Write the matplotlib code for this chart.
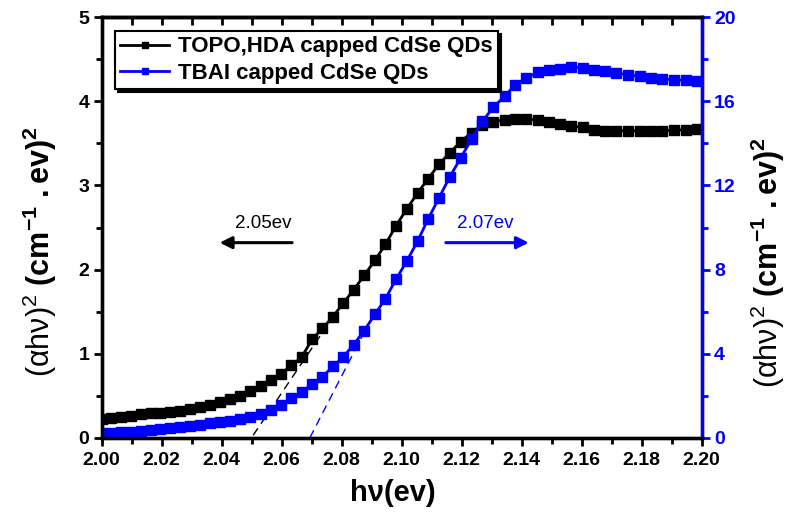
import matplotlib
matplotlib.use("Agg")
import matplotlib.pyplot as plt
from matplotlib.ticker import MultipleLocator

plt.rcParams['font.family'] = ['Liberation Sans', 'DejaVu Sans']
plt.rcParams['mathtext.fontset'] = 'custom'
plt.rcParams['mathtext.rm'] = 'Liberation Sans'
plt.rcParams['mathtext.bf'] = 'Liberation Sans:bold'
plt.rcParams['mathtext.it'] = 'Liberation Sans:italic'

# photon energy (eV), one point per nm of wavelength
energy = [2.0000, 2.0032, 2.0065, 2.0097, 2.0130, 2.0163, 2.0195, 2.0228,
          2.0261, 2.0295, 2.0328, 2.0361, 2.0395, 2.0428, 2.0462, 2.0496,
          2.0530, 2.0564, 2.0598, 2.0632, 2.0667, 2.0701, 2.0736, 2.0771,
          2.0805, 2.0840, 2.0875, 2.0911, 2.0946, 2.0981, 2.1017, 2.1053,
          2.1088, 2.1124, 2.1160, 2.1197, 2.1233, 2.1269, 2.1306, 2.1343,
          2.1379, 2.1416, 2.1453, 2.1490, 2.1528, 2.1565, 2.1603, 2.1640,
          2.1678, 2.1716, 2.1754, 2.1793, 2.1831, 2.1869, 2.1908, 2.1947,
          2.1986]

topo_hda = [0.22, 0.23, 0.25, 0.26, 0.28, 0.29, 0.30, 0.31, 0.32, 0.34,
            0.36, 0.39, 0.42, 0.46, 0.50, 0.56, 0.62, 0.69, 0.76, 0.86,
            0.96, 1.17, 1.30, 1.44, 1.60, 1.76, 1.93, 2.11, 2.30, 2.52,
            2.72, 2.91, 3.08, 3.25, 3.39, 3.52, 3.63, 3.72, 3.76, 3.78,
            3.79, 3.79, 3.78, 3.76, 3.73, 3.71, 3.69, 3.66, 3.65, 3.65,
            3.65, 3.65, 3.65, 3.65, 3.66, 3.66, 3.67]

tbai = [0.24, 0.24, 0.27, 0.29, 0.34, 0.37, 0.40, 0.45, 0.50, 0.56,
        0.61, 0.69, 0.74, 0.82, 0.90, 1.01, 1.14, 1.33, 1.57, 1.90,
        2.16, 2.56, 2.90, 3.40, 3.84, 4.43, 5.10, 5.87, 6.62, 7.53,
        8.40, 9.35, 10.40, 11.40, 12.40, 13.32, 14.20, 15.05, 15.73, 16.24,
        16.80, 17.11, 17.38, 17.51, 17.56, 17.64, 17.59, 17.51, 17.43, 17.35,
        17.27, 17.19, 17.11, 17.06, 17.03, 17.00, 16.98]

# linear fits to the absorption edge
fit_black_x = [2.0505, 2.0745]
fit_black_y = [0.03, 1.30]
fit_blue_x = [2.0694, 2.0878]
fit_blue_y = [0.0, 5.1]

blue = (0, 0, 1)

fig = plt.figure(figsize=(7.9, 5.15), dpi=100)
ax = fig.add_axes([0.1287, 0.15, 0.7595, 0.8164])
ax2 = ax.twinx()

l1, = ax.plot(energy, topo_hda, color='black', lw=2.0, marker='s', ms=6.5,
              label='TOPO,HDA capped CdSe QDs')
ax.plot(fit_black_x, fit_black_y, color='black', lw=1.0, ls=(0, (6, 4)))
l2, = ax2.plot(energy, tbai, color=blue, lw=2.0, marker='s', ms=6.5,
               label='TBAI capped CdSe QDs')
ax2.plot(fit_blue_x, fit_blue_y, color=blue, lw=1.0, ls=(0, (6, 4)))

ax.set_xlim(2.0, 2.2)
ax.set_ylim(0, 5)
ax2.set_ylim(0, 20)
ax.xaxis.set_major_locator(MultipleLocator(0.02))
ax.xaxis.set_minor_locator(MultipleLocator(0.01))
ax.yaxis.set_major_locator(MultipleLocator(1))
ax.yaxis.set_minor_locator(MultipleLocator(0.5))
ax2.yaxis.set_major_locator(MultipleLocator(4))
ax2.yaxis.set_minor_locator(MultipleLocator(2))
ax.set_xticklabels([f"{v:.2f}" for v in ax.get_xticks()])

for s in ax.spines.values():
    s.set_linewidth(2.4)
for s in ax2.spines.values():
    s.set_linewidth(2.4)
ax2.spines['right'].set_color(blue)

tick_font = dict(labelsize=14)
ax.tick_params(axis='x', which='major', direction='out', length=6, width=2,
               pad=4, **tick_font)
ax.tick_params(axis='x', which='minor', direction='out', length=4, width=2)
ax.tick_params(axis='y', which='major', direction='out', length=6, width=2,
               pad=3, **tick_font)
ax.tick_params(axis='y', which='minor', direction='out', length=4, width=2)
ax2.tick_params(axis='y', which='major', direction='out', length=6, width=2,
                color=blue, labelcolor=blue, pad=3, **tick_font)
ax2.tick_params(axis='y', which='minor', direction='out', length=4, width=2,
                color=blue)
for lab in ax.get_xticklabels() + ax.get_yticklabels() + ax2.get_yticklabels():
    lab.set_fontweight('bold')

top = ax.secondary_xaxis('top')
top.xaxis.set_major_locator(MultipleLocator(0.02))
top.xaxis.set_minor_locator(MultipleLocator(0.01))
top.tick_params(axis='x', which='both', direction='in', length=6, width=2,
                labeltop=False)
top.spines['top'].set_linewidth(2.4)

ylab = r"$\mathrm{(\alpha h\nu)^2\ }\mathbf{(cm^{-1}\ .ev)^2}$"
fig.text(0.050, 0.512, ylab, rotation=90, ha='center', va='center',
         fontsize=22)
fig.text(0.972, 0.49, ylab, rotation=90, ha='center', va='center',
         fontsize=22)
fig.text(0.4975, 0.043, "h\u03bd(ev)", ha='center', va='center',
         fontsize=21, fontweight='bold')

# band gap annotations
ax.annotate("", xy=(2.0384, 2.32), xytext=(2.0644, 2.32),
            arrowprops=dict(arrowstyle='-|>', color='black', lw=2.2,
                            mutation_scale=18))
ax.text(2.0538, 2.55, "2.05ev", ha='center', va='center', fontsize=13.5,
        color='black')
ax.annotate("", xy=(2.1433, 2.32), xytext=(2.1138, 2.32),
            arrowprops=dict(arrowstyle='-|>', color=blue, lw=2.2,
                            mutation_scale=18))
ax.text(2.1278, 2.55, "2.07ev", ha='center', va='center', fontsize=13.5,
        color=blue)

leg = ax2.legend([l1, l2], [l1.get_label(), l2.get_label()],
                 loc='upper left', bbox_to_anchor=(0.022, 0.968),
                 borderaxespad=0, fancybox=False, edgecolor='black',
                 framealpha=1, shadow={'color': 'black', 'alpha': 1},
                 prop={'weight': 'bold', 'size': 16}, handlelength=2.2,
                 handletextpad=0.4, borderpad=0.25, labelspacing=0.25,
                 markerscale=0.65)
leg.get_frame().set_linewidth(1.5)

fig.savefig("out.png", dpi=100)
